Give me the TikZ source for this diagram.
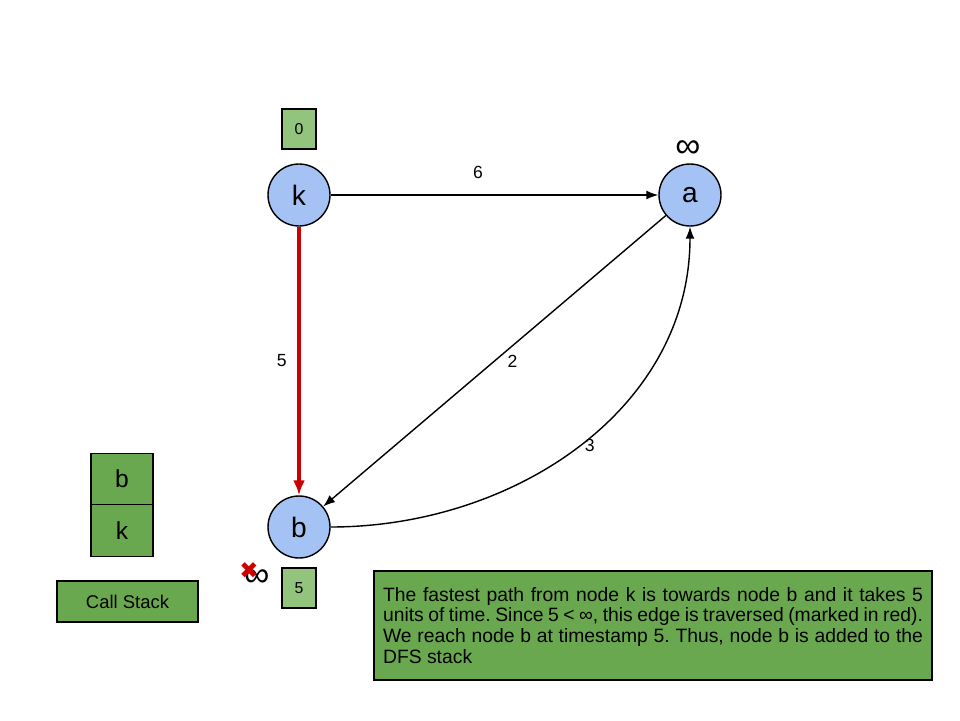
\documentclass[tikz,border=0pt]{standalone}
\usepackage{fontspec}
\setmainfont{Liberation Sans}
\newfontfamily\symfont{DejaVu Sans}
\usetikzlibrary{arrows.meta}
\definecolor{nodeblue}{HTML}{A4C2F4}
\definecolor{lightgreen}{HTML}{93C47D}
\definecolor{darkgreen}{HTML}{6AA84F}
\definecolor{edgered}{HTML}{CC0000}
\frenchspacing

\begin{document}
\begin{tikzpicture}[x=0.02cm, y=-0.02cm,
    vertex/.style ={circle, draw, line width=0.8pt, fill=nodeblue, minimum size=1.24cm, inner sep=0pt, font=\fontsize{16}{16}\selectfont},
    timebox/.style ={draw, line width=0.8pt, fill=lightgreen, minimum width=0.68cm, minimum height=0.8cm, inner sep=0pt, font=\fontsize{9}{10}\selectfont},
    stackbox/.style ={draw, line width=0.8pt, fill=darkgreen, minimum width=1.24cm, minimum height=1.03cm, inner sep=0pt, font=\fontsize{14}{14}\selectfont},
    weight/.style ={font=\fontsize{10}{11}\selectfont, inner sep=1pt},
    infty/.style ={font=\fontsize{20}{20}\selectfont, inner sep=0pt},
    edge/.style ={line width=0.8pt, -{Latex[length=2.4mm,width=1.8mm]}}]
   \useasboundingbox (0,0) rectangle (960,720);

   \node[vertex] (k) at (299,195) {k};
   \node[vertex] (a) at (690,195) {a};
   \node[vertex] (b) at (299,527) {b};

   \node[timebox] (tk) at (299,129) {0};
   \node[timebox] (tb) at (299,588) {5};
   \node[infty] (ia) at (688,149) {∞};
   \node[infty] (ib) at (257,578) {∞};
   \node[inner sep=0pt, text=edgered, font=\symfont\fontsize{13}{13}\selectfont] (xb) at (249,571) {✖};

   \draw[edge] (k) -- node[weight, pos=0.45, above=8pt] {6} (a);
   \draw[edge, draw=edgered, fill=edgered, line width=2pt, -{Latex[length=3mm,width=2.4mm]}] (k) -- node[weight, left=5pt, text=black] {5} (b);
   \draw[edge] (a) -- node[weight, right=6pt] {2} (b);
   \draw[edge] (b) to[out=0, in=-90] node[weight, right=2pt] {3} (a);

   \node[stackbox] (sb) at (122,479) {b};
   \node[stackbox] (sk) at (122,530.5) {k};
   \node[draw, line width=0.8pt, fill=darkgreen, minimum width=2.82cm, minimum height=0.82cm, font=\fontsize{10.5}{12}\selectfont] (cs) at (127.5,601.5) {Call Stack};

   \node[draw, line width=0.8pt, fill=darkgreen, minimum width=11.16cm, minimum height=2.18cm, text width=10.8cm, align=justify, font=\fontsize{11}{11.9}\selectfont] (note) at (653,625.5)
     {The fastest path from node k is towards node b and it takes 5\linebreak units of time. Since 5 < ∞, this edge is traversed (marked in red).\linebreak We reach node b at timestamp 5. Thus, node b is added to the\linebreak DFS stack};
 \end{tikzpicture}
\end{document}
